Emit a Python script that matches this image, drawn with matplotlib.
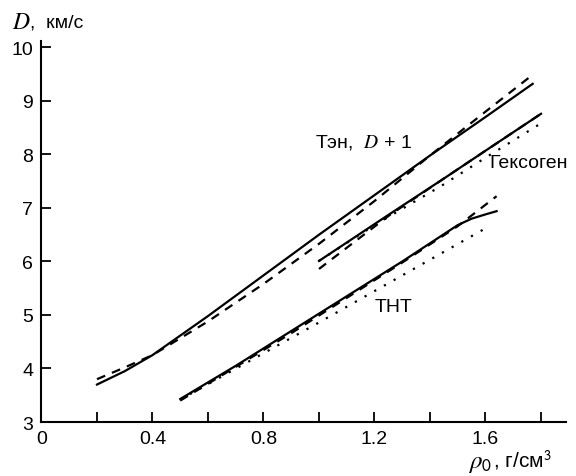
import matplotlib
matplotlib.use("Agg")
from matplotlib import pyplot as plt

# Тэн (plotted as D + 1)
ten_rho = [0.2, 0.3, 0.4, 0.6, 0.8, 1.0, 1.2, 1.4, 1.6, 1.77]
ten_solid = [3.70, 3.95, 4.25, 4.98, 5.74, 6.50, 7.24, 7.98, 8.70, 9.32]
ten_dash = [3.80, 4.02, 4.25, 4.88, 5.58, 6.33, 7.13, 7.98, 8.80, 9.49]

# Гексоген
hex_rho = [1.0, 1.25, 1.45, 1.6, 1.8]
hex_solid = [6.01, 6.87, 7.55, 8.07, 8.76]
hex_dash = [5.86, 6.85, 7.55, 8.07, 8.76]
hex_dot_rho = [1.0, 1.2, 1.44, 1.6, 1.815]
hex_dot = [6.01, 6.68, 7.41, 7.94, 8.63]

# ТНТ
tnt_rho = [0.5, 0.7, 0.9, 1.1, 1.3, 1.5, 1.55, 1.6, 1.64]
tnt_solid = [3.43, 4.05, 4.70, 5.35, 6.00, 6.68, 6.80, 6.88, 6.94]
tnt_dash_rho = [0.5, 0.9, 1.3, 1.5, 1.64]
tnt_dash = [3.40, 4.66, 5.98, 6.66, 7.22]
tnt_dot_rho = [0.5, 1.0, 1.6]
tnt_dot = [3.42, 4.86, 6.62]

xticks_major = [0, 0.4, 0.8, 1.2, 1.6]
xtick_labels = ["0", "0.4", "0.8", "1.2", "1.6"]
xticks_minor = [0.2, 0.6, 1.0, 1.4, 1.8]
yticks = [3, 4, 5, 6, 7, 8, 9, 10]

plt.rcParams['font.family'] = ['Liberation Sans', 'DejaVu Sans']
plt.rcParams['mathtext.fontset'] = 'stix'

fig = plt.figure(figsize=(5.76, 4.77), dpi=100)
ax = fig.add_axes([0.0720, 0.1132, 0.9106, 0.7987])

lw = 1.6
dash = (4, 3.3)
dot = (1, 4)
ax.plot(ten_rho, ten_solid, color='black', lw=lw)
ax.plot(ten_rho, ten_dash, color='black', lw=lw, dashes=dash)
ax.plot(hex_rho, hex_solid, color='black', lw=lw)
ax.plot(hex_rho, hex_dash, color='black', lw=lw, dashes=dash)
ax.plot(hex_dot_rho, hex_dot, color='black', lw=lw, dashes=dot)
ax.plot(tnt_rho, tnt_solid, color='black', lw=lw)
ax.plot(tnt_dash_rho, tnt_dash, color='black', lw=lw, dashes=dash)
ax.plot(tnt_dot_rho, tnt_dot, color='black', lw=lw, dashes=dot)

ax.set_xlim(0, 1.89)
ax.set_ylim(3, 10.12)
ax.set_xticks(xticks_major)
ax.set_xticklabels(xtick_labels)
ax.set_xticks(xticks_minor, minor=True)
ax.set_yticks(yticks)
ax.tick_params(which='both', direction='in', length=7, width=1.3,
               labelsize=14, pad=6)
for s in ['top', 'right']:
    ax.spines[s].set_visible(False)
for s in ['left', 'bottom']:
    ax.spines[s].set_linewidth(1.5)

ax.text(0.985, 8.25, "Тэн,  $D$ + 1", fontsize=14, va='center')
ax.text(1.615, 7.85, "Гексоген", fontsize=14, va='center')
ax.text(1.2, 5.15, "ТНТ", fontsize=14, va='center')

# axis captions: math symbol a bit larger than the units
fig.text(12 / 576, 1 - 23 / 477, "$D$", fontsize=17, va='center')
fig.text(30 / 576, 1 - 23 / 477, ",  км/с", fontsize=14, va='center')
fig.text(468 / 576, 1 - 463 / 477, r"$\rho_{\mathsf{0}}$", fontsize=18,
         va='center')
fig.text(493 / 576, 1 - 460 / 477, ", г/см$^{\mathsf{3}}$", fontsize=15,
         va='center')

fig.savefig("out.png", dpi=100)
